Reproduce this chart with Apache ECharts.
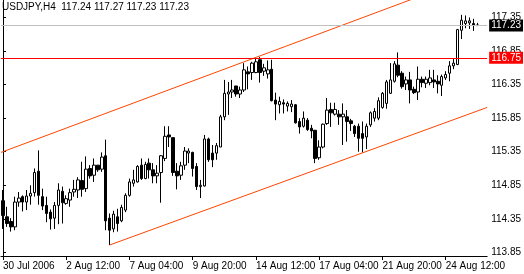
<!DOCTYPE html>
<html><head><meta charset="utf-8">
<script src="https://cdn.jsdelivr.net/npm/echarts@6/dist/echarts.min.js"></script>
<style>html,body{margin:0;padding:0;background:#fff;}#c{width:524px;height:274px;}</style>
</head><body><div id="c"></div>
<script>
const symbol = 'USDJPY,H4';
const opens = [114.62,114.38,114.31,114.23,114.60,114.68,114.60,114.69,114.74,115.06,
114.68,114.55,114.45,114.36,114.55,114.76,114.58,114.63,114.75,114.78,
114.92,114.80,115.10,115.00,115.15,115.09,115.29,114.36,114.20,114.38,
114.32,114.48,114.70,114.88,114.90,115.15,114.95,115.18,115.08,114.99,
115.04,115.25,115.60,115.56,115.06,115.00,115.15,115.33,115.34,115.13,
114.83,114.84,115.54,115.33,115.33,115.42,115.87,116.21,116.24,116.33,
116.21,116.27,116.54,116.53,116.53,116.72,116.55,116.51,116.58,116.12,
116.05,116.08,116.03,116.02,116.05,115.80,115.73,115.82,115.70,115.67,
115.26,115.42,115.77,115.98,115.91,115.91,115.87,115.87,115.81,115.73,
115.73,115.62,115.57,115.75,115.85,115.85,116.01,116.07,116.22,116.40,
116.64,116.52,116.36,116.42,116.28,116.24,116.43,116.37,116.38,116.42,
116.40,116.34,116.45,116.52,116.63,116.65,117.16,117.26,117.27,117.26,117.24];
const highs = [114.78,114.53,114.36,114.68,114.75,114.70,114.78,114.85,115.10,115.37,
114.80,114.68,114.49,114.60,114.88,114.83,114.70,114.80,114.93,114.97,
115.20,115.28,115.15,115.25,115.15,115.34,115.53,114.43,114.47,114.50,
114.56,114.73,114.95,115.08,115.15,115.25,115.20,115.25,115.18,115.15,
115.30,115.73,115.73,115.56,115.18,115.20,115.42,115.40,115.35,115.18,
114.93,115.60,115.56,115.45,115.48,115.90,116.42,116.39,116.42,116.33,
116.32,116.67,116.62,116.69,116.74,116.76,116.66,116.71,116.72,116.23,
116.17,116.13,116.10,116.12,116.06,115.85,115.95,115.85,115.75,115.67,
115.52,115.77,116.15,116.08,116.08,115.97,116.07,115.97,115.84,115.75,
115.77,115.80,115.77,115.95,116.00,116.16,116.24,116.42,116.67,116.70,
116.83,116.55,116.47,116.54,116.32,116.62,116.47,116.47,116.57,116.57,
116.49,116.50,116.55,116.70,116.73,117.18,117.39,117.38,117.35,117.33,117.27];
const lows = [114.20,114.23,114.16,114.18,114.53,114.46,114.48,114.56,114.68,114.56,
114.48,114.30,114.19,114.20,114.27,114.28,114.56,114.53,114.68,114.66,
114.68,114.75,114.95,114.90,115.05,115.05,114.18,113.96,114.15,114.16,
114.30,114.45,114.68,114.83,114.89,114.93,114.94,114.95,114.88,114.88,
114.59,115.21,115.42,114.99,114.79,114.93,115.08,115.18,114.98,114.78,
114.66,114.83,115.20,115.12,115.23,115.42,115.82,115.90,116.15,116.17,
116.15,116.24,116.28,116.42,116.52,116.38,116.48,116.44,116.10,115.82,
115.92,115.92,115.95,115.94,115.77,115.62,115.71,115.66,115.55,115.18,
115.23,115.40,115.75,115.72,115.89,115.75,115.45,115.50,115.66,115.57,
115.35,115.34,115.39,115.72,115.80,115.82,115.99,115.99,116.21,116.38,
116.46,116.29,116.27,116.07,116.21,116.12,116.31,116.30,116.34,116.30,
116.22,116.18,116.42,116.40,116.58,116.64,117.03,117.19,117.18,117.15,117.23];
const closes = [114.40,114.28,114.23,114.60,114.66,114.60,114.69,114.73,115.04,114.70,
114.54,114.43,114.35,114.55,114.78,114.59,114.65,114.74,114.79,114.93,
114.79,115.09,114.99,115.15,115.08,115.27,114.32,114.18,114.42,114.28,
114.52,114.70,114.90,114.93,115.13,114.95,115.16,115.08,114.99,115.03,
115.29,115.58,115.57,115.04,114.99,115.14,115.36,115.36,115.10,114.83,
114.85,115.54,115.23,115.23,115.44,115.87,116.22,116.24,116.27,116.21,
116.27,116.57,116.51,116.67,116.69,116.53,116.60,116.57,116.11,116.06,
116.10,116.06,116.07,116.06,115.78,115.72,115.85,115.68,115.66,115.25,
115.42,115.76,115.97,115.93,115.98,115.87,115.91,115.80,115.77,115.62,
115.55,115.55,115.73,115.93,115.95,116.11,116.22,116.39,116.42,116.66,
116.49,116.32,116.42,116.27,116.23,116.43,116.38,116.43,116.45,116.39,
116.36,116.47,116.50,116.63,116.67,117.17,117.31,117.30,117.30,117.24,117.23];
const emptySlots = 2;
const tickLabels = ['30 Jul 2006','2 Aug 12:00','7 Aug 04:00','9 Aug 20:00','14 Aug 12:00','17 Aug 04:00','21 Aug 20:00','24 Aug 12:00'];
const barsPerLabel = 16;
const priceTicks = [113.85,114.35,114.85,115.35,115.85,116.35,116.85,117.35];
const bidPrice = 117.23;
const levelPrice = 116.75;
const upperChannel = [[-0.5,115.34],[122.5,118.04]];
const lowerChannel = [[27,113.96],[122.5,116.01]];

const FONT = 'Liberation Sans';
const n = opens.length;
const total = n + emptySlots;
const cats = [];
for (let i = 0; i < total; i++) cats.push(String(i));
const candles = opens.map((o, i) => [o, closes[i], lows[i], highs[i]]);
const isTick = (idx) => idx % barsPerLabel === 0 && idx / barsPerLabel < tickLabels.length;
const last = n - 1;
const titleText = symbol + '  ' + [opens[last], highs[last], lows[last], closes[last]].map(v => v.toFixed(2)).join(' ');

const chart = echarts.init(document.getElementById('c'), null, {renderer: 'canvas'});
chart.setOption({
  animation: false,
  backgroundColor: '#ffffff',
  title: {text: titleText, left: 2, top: 2, padding: 0,
    textStyle: {fontSize: 10, fontWeight: 'normal', color: '#000', fontFamily: FONT}},
  grid: {left: -3, top: 0, width: total * 4, height: 256, containLabel: false},
  xAxis: [{
    type: 'category', data: cats, boundaryGap: true,
    axisLine: {show: true, lineStyle: {color: '#000', width: 1}},
    axisTick: {show: true, alignWithLabel: true, length: 4, interval: (idx) => isTick(idx), lineStyle: {color: '#000'}},
    axisLabel: {show: true, interval: (idx) => isTick(idx), align: 'left', margin: 5,
      formatter: (v, idx) => tickLabels[idx / barsPerLabel] || '',
      fontSize: 10, color: '#000', fontFamily: FONT},
    splitLine: {show: false}
  }, {
    type: 'value', min: -0.5, max: total - 0.5, show: false
  }],
  yAxis: {
    type: 'value', position: 'right', min: 113.796, max: 117.611, scale: true,
    axisLine: {show: true, lineStyle: {color: '#000', width: 1}},
    axisTick: {show: true, length: 3, customValues: priceTicks, lineStyle: {color: '#000'}},
    axisLabel: {show: true, customValues: priceTicks, margin: 4, formatter: (v) => v.toFixed(2),
      fontSize: 10, color: '#000', fontFamily: FONT},
    splitLine: {show: false}
  },
  series: [{
    type: 'candlestick', xAxisIndex: 0, yAxisIndex: 0, data: candles, barWidth: 3,
    itemStyle: {color: '#ffffff', color0: '#000000', borderColor: '#000000', borderColor0: '#000000', borderWidth: 1},
    markLine: {
      symbol: 'none', silent: true, animation: false,
      data: [
        {yAxis: bidPrice, lineStyle: {color: '#c0c0c0', width: 1, type: 'solid'},
          label: {show: true, position: 'end', distance: 2, formatter: (p) => p.value.toFixed(2),
            color: '#fff', backgroundColor: '#000', padding: [1, 2, 1, 2], fontSize: 10, fontFamily: FONT}},
        {yAxis: levelPrice, lineStyle: {color: '#ff0000', width: 1, type: 'solid'},
          label: {show: true, position: 'end', distance: 2, formatter: (p) => p.value.toFixed(2),
            color: '#fff', backgroundColor: '#ff0000', padding: [1, 2, 1, 2], fontSize: 10, fontFamily: FONT}}
      ]
    }
  }, {
    type: 'line', xAxisIndex: 1, yAxisIndex: 0, data: upperChannel, symbol: 'none', clip: true,
    lineStyle: {color: '#ff4500', width: 1}
  }, {
    type: 'line', xAxisIndex: 1, yAxisIndex: 0, data: lowerChannel, symbol: 'none', clip: true,
    lineStyle: {color: '#ff4500', width: 1}
  }]
});
</script></body></html>
